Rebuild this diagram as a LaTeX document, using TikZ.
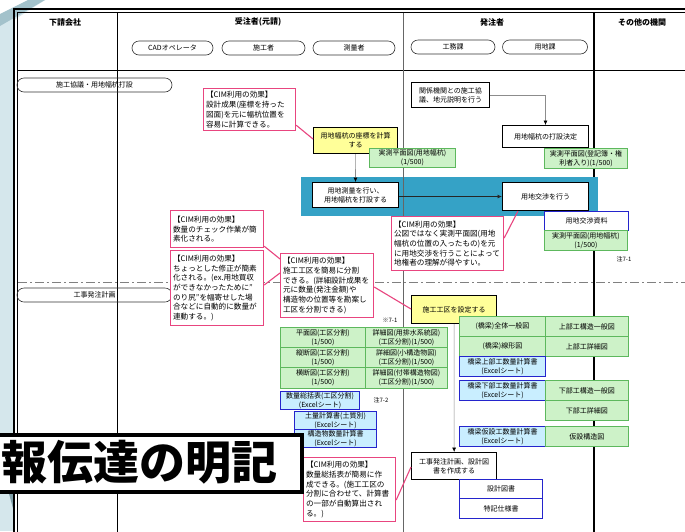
\documentclass[tikz,border=0pt]{standalone}
\usepackage{fontspec}
\setmainfont{Noto Sans CJK JP}
\usetikzlibrary{arrows.meta,shapes.misc,calc}
\definecolor{cimpink}{HTML}{E8457F}
\definecolor{grnfill}{HTML}{CDF2C8}
\definecolor{grnline}{HTML}{5DB85D}
\definecolor{blufill}{HTML}{C9EEFF}
\definecolor{bluline}{HTML}{2424CC}
\definecolor{yelfill}{HTML}{FFFF99}
\definecolor{bandcol}{HTML}{35A2C6}
\definecolor{bglight}{HTML}{D5E7EC}
\definecolor{bgmid}{HTML}{A3C2CB}
\definecolor{bgdark}{HTML}{7F9FA8}
\newcommand{\sfnt}{\fontsize{7}{9}\selectfont}
\newcommand{\cfnt}{\fontsize{7.6}{9.7}\selectfont}
\newcommand{\hfnt}{\fontsize{8}{10}\selectfont\bfseries}
\tikzset{
  sz/.style 2 args={minimum width=#1, minimum height=#2},
  cellbase/.style={anchor=north west, inner sep=0pt, align=center, font=\sfnt},
  wbox/.style={cellbase, draw=black, line width=1pt, fill=white},
  ybox/.style={cellbase, draw=black, line width=1.2pt, fill=yelfill},
  gbox/.style={cellbase, draw=grnline, line width=0.9pt, fill=grnfill},
  bbox/.style={cellbase, draw=bluline, line width=1.1pt, fill=blufill},
  bwbox/.style={cellbase, draw=bluline, line width=1.3pt, fill=white},
  cim/.style={anchor=north west, draw=cimpink, line width=1.2pt, fill=white, align=left, inner sep=2.5pt, font=\cfnt},
  pill/.style={rounded rectangle, draw=black!80, line width=0.6pt, inner sep=0pt, minimum height=14pt, font=\sfnt},
  hdr/.style={font=\hfnt, inner sep=0pt},
  note/.style={font=\fontsize{6}{7}\selectfont, inner sep=0pt},
  arr/.style={draw=black!45, line width=0.6pt, -{Latex[length=4.5pt,width=4pt,color=black]}},
  pk/.style={draw=cimpink, line width=1.1pt},
}
\begin{document}
\begin{tikzpicture}[x=1pt,y=-1pt]
\useasboundingbox (0,0) rectangle (685,531);
\fill[white] (0,0) rectangle (685,531);
% left decoration
\fill[bglight] (0,0) rectangle (14,531);
\fill[bglight] (0,0) -- (45,0) -- (14,20) -- (0,20) -- cycle;
\fill[white] (0,0) -- (28,0) -- (0,14) -- cycle;
\fill[bgmid] (0,14) -- (28,0) -- (45,0) -- (0,26) -- cycle;
\fill[bgdark] (8,490) -- (14,490) -- (14,512) -- cycle;
% page frame
\draw[line width=1.6pt] (14,700) -- (14,9) -- (700,9);
\draw[line width=0.6pt] (17.5,700) -- (17.5,12.5) -- (700,12.5);
% grid
\draw[line width=0.9pt] (17.5,70) -- (700,70);
\draw[line width=1pt] (117,12.5) -- (117,540);
\draw[line width=0.9pt, black!60] (403,12.5) -- (403,540);
\draw[line width=1.1pt] (594,12.5) -- (594,540);
\draw[black!50, line width=0.7pt, dash pattern=on 9pt off 3pt on 2pt off 3pt] (18,282) -- (685,282);
% headers
\node[hdr] (h1) at (65,22) {下請会社};
\node[hdr] (h2) at (258,22) {受注者(元請)};
\node[hdr] (h3) at (492,22) {発注者};
\node[hdr] (h4) at (642,22) {その他の機関};
\node[pill, minimum width=81pt] (p1) at (172.5,48) {CADオペレータ};
\node[pill, minimum width=83pt] (p2) at (263.5,48) {施工者};
\node[pill, minimum width=82pt] (p3) at (354,48) {測量者};
\node[pill, minimum width=84pt] (p4) at (453,47) {工務課};
\node[pill, minimum width=85pt] (p5) at (545,47) {用地課};
\node[pill, minimum width=155pt] (lane1) at (94.5,85) {施工協議・用地幅杭打設};
\node[pill, minimum width=155pt] (lane2) at (94.5,295) {工事発注計画};
% band
\fill[bandcol] (301,177) rectangle (598,216);
\draw[line width=0.9pt, black!60] (403,177) -- (403,216);
% upper flow
\node[wbox, sz={78pt}{25pt}] (kan) at (411,82) {関係機関との施工協\\議、地元説明を行う};
\node[wbox, sz={86pt}{22pt}] (dec) at (502,125) {用地幅杭の打設決定};
\node[ybox, sz={84pt}{26pt}] (yel1) at (313,127) {用地幅杭の座標を計算\\する};
\node[gbox, sz={86pt}{19pt}] (g1) at (369,148) {実測平面図(用地幅杭)\\(1/500)};
\node[gbox, sz={83pt}{20pt}] (g2) at (544,148) {実測平面図(登記簿・権\\利者入り)(1/500)};
\node[wbox, sz={86pt}{25pt}] (sur) at (312,182) {用地測量を行い、\\用地幅杭を打設する};
\node[wbox, sz={86pt}{28pt}] (neg) at (502,182) {用地交渉を行う};
\node[bwbox, sz={84pt}{19pt}] (mat) at (544,211) {用地交渉資料};
\node[gbox, sz={83pt}{20pt}] (g3) at (544,230) {実測平面図(用地幅杭)\\(1/500)};
\node[note] (n1) at (624,259) {注7-1};
% CIM boxes
\node[cim, text width=87pt, minimum height=42pt] (c1) at (203,88) {【CIM利用の効果】\\設計成果(座標を持った\\図面)を元に幅杭位置を\\容易に計算できる。};
\node[cim, text width=107pt, minimum height=54pt] (c3) at (391,216) {【CIM利用の効果】\\公図ではなく実測平面図(用地\\幅杭の位置の入ったもの)を元\\に用地交渉を行うことによって\\地権者の理解が得やすい。};
\node[cim, text width=88pt, minimum height=37pt] (c2a) at (170,210) {【CIM利用の効果】\\数量のチェック作業が簡\\素化される。};
\node[cim, text width=88pt, minimum height=75pt] (c2b) at (170,250) {【CIM利用の効果】\\ちょっとした修正が簡素\\化される。(ex.用地買収\\ができなかったために"\\のり尻"を幅寄せした場\\合などに自動的に数量が\\連動する。)};
\node[cim, text width=88pt, minimum height=64pt] (c4) at (280,253) {【CIM利用の効果】\\施工工区を簡易に分割\\できる。(詳細設計成果を\\元に数量(発注金額)や\\構造物の位置等を勘案し\\工区を分割できる)};
\node[cim, text width=87pt, minimum height=64pt] (c5) at (303,457) {【CIM利用の効果】\\数量総括表が簡易に作\\成できる。(施工工区の\\分割に合わせて、計算書\\の一部が自動算出され\\る。)};
% lower flow
\node[ybox, sz={85pt}{28pt}] (yel2) at (411,295) {施工工区を設定する};
\node[note] (n2) at (390,320) {※7-1};
\node[gbox, sz={85pt}{20pt}] (lt11) at (280,327) {平面図(工区分割)\\(1/500)};
\node[gbox, sz={82pt}{20pt}] (lt12) at (365,327) {詳細図(用排水系統図)\\(工区分割)(1/500)};
\node[gbox, sz={85pt}{20pt}] (lt21) at (280,347) {縦断図(工区分割)\\(1/500)};
\node[gbox, sz={82pt}{20pt}] (lt22) at (365,347) {詳細図(小構造物図)\\(工区分割)(1/500)};
\node[gbox, sz={85pt}{21pt}] (lt31) at (280,367) {横断図(工区分割)\\(1/500)};
\node[gbox, sz={82pt}{21pt}] (lt32) at (365,367) {詳細図(付帯構造物図)\\(工区分割)(1/500)};
\node[bbox, sz={79pt}{18pt}] (qty) at (280,391) {数量総括表(工区分割)\\(Excelシート)};
\node[note] (n3) at (381,400) {注7-2};
\node[bbox, sz={82pt}{18pt}] (soil) at (294,411) {土量計算書(土質別)\\(Excelシート)};
\node[bbox, sz={82pt}{18pt}] (strc) at (294,429) {構造物数量計算書\\(Excelシート)};
% right table
\node[gbox, sz={86pt}{20pt}] (r11) at (459,316) {(橋梁)全体一般図};
\node[gbox, sz={83pt}{20pt}] (r12) at (545,316) {上部工構造一般図};
\node[gbox, sz={86pt}{20pt}] (r21) at (459,336) {(橋梁)線形図};
\node[gbox, sz={83pt}{20pt}] (r22) at (545,336) {上部工詳細図};
\node[bbox, sz={86pt}{20pt}] (r3) at (459,356) {橋梁上部工数量計算書\\(Excelシート)};
\node[bbox, sz={86pt}{20pt}] (r41) at (459,380) {橋梁下部工数量計算書\\(Excelシート)};
\node[gbox, sz={83pt}{20pt}] (r42) at (545,380) {下部工構造一般図};
\node[gbox, sz={83pt}{20pt}] (r52) at (545,400) {下部工詳細図};
\node[bbox, sz={86pt}{20pt}] (r61) at (459,426) {橋梁仮設工数量計算書\\(Excelシート)};
\node[gbox, sz={83pt}{20pt}] (r62) at (545,426) {仮設構造図};
\node[wbox, line width=1.3pt, sz={85pt}{27pt}] (ord) at (411,452) {工事発注計画、設計図\\書を作成する};
\node[bwbox, sz={83pt}{19pt}] (d1) at (459,479) {設計図書};
\node[bwbox, sz={83pt}{20pt}] (d2) at (459,498) {特記仕様書};
% connectors
\draw[arr] (yel1.south) -- (sur.north);
\draw[line width=0.8pt, black!85, -{Latex[length=4.5pt,width=4pt]}] (sur.east |- neg.west) -- (neg.west);
\draw[arr] (kan.east) -| (dec.north);
\draw[arr] (yel2.south) -- (ord.north);
\draw[pk] ($(c1.south east)+(0,-6)$) -- ($(yel1.north west)+(0,12)$);
\draw[pk] ($(c3.north east)+(0,22)$) -- ($(neg.south west)+(16,0)$);
\draw[pk] ($(c2a.south east)+(0,-2)$) -- ($(c4.north west)+(0,6)$);
\draw[pk] ($(c2b.north east)+(0,35)$) -- ($(c4.north west)+(0,20)$);
\draw[pk] ($(c4.north east)+(0,34)$) -- ($(yel2.north west)+(0,14)$);
\draw[pk] ($(c5.north east)+(0,43)$) -- ($(ord.north west)+(0,15)$);
% overlay banner
\node[draw=black, line width=3.5pt, fill=white, anchor=north west, minimum width=307pt, minimum height=57pt, inner sep=0pt] (ban) at (-7,433) {};
\node[anchor=west, inner sep=0pt, font=\fontsize{46}{51}\selectfont\bfseries] (bantext) at (1,462) {報伝達の明記};
\end{tikzpicture}
\end{document}
